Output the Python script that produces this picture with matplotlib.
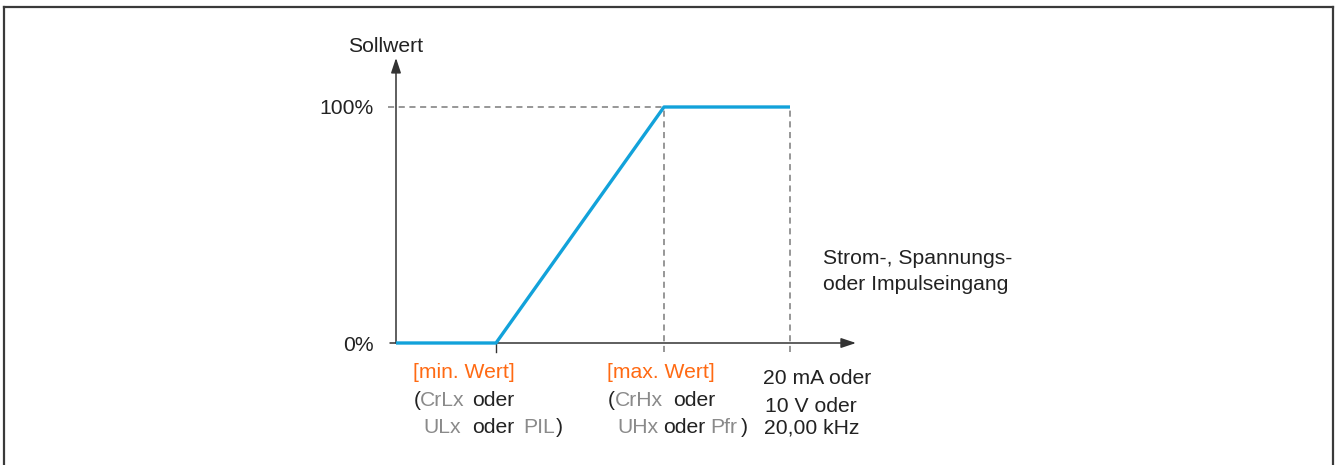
import matplotlib.pyplot as plt
from matplotlib.lines import Line2D

plt.rcParams['font.family'] = ['Liberation Sans', 'DejaVu Sans']

# input signal (arbitrary units) and setpoint in %
x_in = [0, 1, 2.68, 3.94]
y_set = [0, 0, 100, 100]
x_min, x_max, x_end = 1, 2.68, 3.94

W, H = 1336, 465
fig = plt.figure(figsize=(W / 100, H / 100), dpi=100)

def px(x, y):  # pixel -> figure fraction
    return x / W, 1 - y / H

# axes: x=0 at px 396, 100 px per unit; y=0 at px 343, 100% at px 107
ax = fig.add_axes([396 / W, (H - 343) / H, 470 / W, 290 / H])
ax.set_xlim(0, 4.70)
ax.set_ylim(0, 290 / 2.36)
ax.axis('off')

axc = '#333333'
ax.annotate('', xy=(4.60, 0), xytext=(-0.06, 0),
            arrowprops=dict(arrowstyle='-|>,head_length=0.9,head_width=0.3',
                            color=axc, lw=1.1, shrinkA=0, shrinkB=0),
            annotation_clip=False)
ax.annotate('', xy=(0, 120.8), xytext=(0, 0),
            arrowprops=dict(arrowstyle='-|>,head_length=0.9,head_width=0.3',
                            color=axc, lw=1.1, shrinkA=0, shrinkB=0),
            annotation_clip=False)

dash = dict(color='#7a7a7a', lw=1.1, ls=(0, (4, 3)), clip_on=False)
ax.plot([-0.08, x_end], [100, 100], **dash)
ax.plot([x_max, x_max], [-3.8, 100], **dash)
ax.plot([x_end, x_end], [-3.8, 100], **dash)
ax.plot([x_min, x_min], [-3.8, 0], color=axc, lw=1, clip_on=False)

ax.plot(x_in, y_set, color='#12a2da', lw=2.4, solid_capstyle='butt', clip_on=False, zorder=5)

fs = 15.2
orange = '#ff6a13'
gray = '#8a8a8a'
dark = '#222222'

def t(x, y, s, c=dark, ha='left'):
    fig.text(*px(x, y), s, color=c, fontsize=fs, ha=ha, va='center')

t(386, 46, 'Sollwert', ha='center')
t(374, 109, '100%', ha='right')
t(374, 345, '0%', ha='right')

t(823, 259, 'Strom-, Spannungs-')
t(823, 284, 'oder Impulseingang')

t(413, 372, '[min. Wert]', c=orange)
t(414, 400, '(')
t(420, 400, 'CrLx', c=gray)
t(472, 400, 'oder')
t(423, 427, 'ULx', c=gray)
t(472, 427, 'oder')
t(523, 427, 'PIL', c=gray)
t(556, 427, ')')

t(607, 372, '[max. Wert]', c=orange)
t(608, 400, '(')
t(615, 400, 'CrHx', c=gray)
t(673, 400, 'oder')
t(617, 427, 'UHx', c=gray)
t(663, 427, 'oder')
t(710, 427, 'Pfr', c=gray)
t(741, 427, ')')

t(763, 378, '20 mA oder')
t(765, 406, '10 V oder')
t(764, 428, '20,00 kHz')

# outer frame
fc = '#3a3a3a'
fig.add_artist(Line2D([4 / W, 1333 / W], [1 - 7 / H, 1 - 7 / H], color=fc, lw=1.6))
fig.add_artist(Line2D([4 / W, 4 / W], [0, 1 - 7 / H], color=fc, lw=1.6))
fig.add_artist(Line2D([1333 / W, 1333 / W], [0, 1 - 7 / H], color=fc, lw=1.6))

fig.savefig('out.png', dpi=100)
